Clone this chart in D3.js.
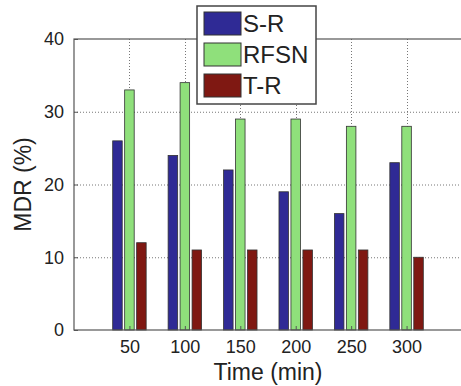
<!DOCTYPE html>
<html>
<head>
<meta charset="utf-8">
<script src="https://cdn.jsdelivr.net/npm/d3@7"></script>
<style>
  body { margin: 0; background: #fff; }
  svg { display: block; font-family: "Liberation Sans", Arial, sans-serif; }
</style>
</head>
<body>
<div id="chart"></div>
<script>
const times = [50, 100, 150, 200, 250, 300];
const seriesNames = ["S-R", "RFSN", "T-R"];
const srValues = [26, 24, 22, 19, 16, 23];
const rfsnValues = [33, 34, 29, 29, 28, 28];
const trValues = [12, 11, 11, 11, 11, 10];
const yTicks = [0, 10, 20, 30, 40];

const colors = ["#2f2a95", "#8fe07b", "#7f1812"];
const series = [srValues, rfsnValues, trValues];

const width = 461, height = 386;
const margins = { left: 74, right: -1, top: 39, bottom: 56 };
const innerWidth = width - margins.left - margins.right;
const innerHeight = height - margins.top - margins.bottom;

const svg = d3.select("#chart").append("svg")
    .attr("width", width)
    .attr("height", height);

const g = svg.append("g")
    .attr("transform", `translate(${margins.left},${margins.top})`);

const x = d3.scaleLinear().domain([0, 350]).range([0, innerWidth]);
const y = d3.scaleLinear().domain([0, 40]).range([innerHeight, 0]);

// dotted grid
const grid = g.append("g").attr("stroke", "#777").attr("stroke-dasharray", "1,2").attr("stroke-width", 1);
yTicks.slice(1, -1).forEach(v => {
    grid.append("line").attr("x1", 0).attr("x2", innerWidth).attr("y1", y(v) + 0.5).attr("y2", y(v) + 0.5);
});
times.forEach(t => {
    grid.append("line").attr("x1", Math.round(x(t)) + 0.5).attr("x2", Math.round(x(t)) + 0.5).attr("y1", 0).attr("y2", innerHeight);
});

// bars: offsets and width in data units
const barW = 8.6, step = 10.8;
series.forEach((vals, si) => {
    g.append("g").selectAll("rect")
        .data(vals.map((v, i) => ({ t: times[i], v })))
        .join("rect")
        .attr("x", d => x(d.t + (si - 1) * step - barW / 2))
        .attr("y", d => y(d.v))
        .attr("width", x(barW) - x(0))
        .attr("height", d => innerHeight - y(d.v))
        .attr("fill", colors[si])
        .attr("stroke", "#333")
        .attr("stroke-width", 0.8);
});

// axes box
const axisColor = "#555";
g.append("rect")
    .attr("x", 0).attr("y", 0)
    .attr("width", innerWidth).attr("height", innerHeight)
    .attr("fill", "none").attr("stroke", axisColor).attr("stroke-width", 1.2);

const xAxis = g.append("g")
    .attr("transform", `translate(0,${innerHeight})`)
    .call(d3.axisBottom(x).tickValues(times).tickSizeInner(-4).tickSizeOuter(0).tickPadding(10));
xAxis.select(".domain").remove();
xAxis.selectAll("line").attr("stroke", axisColor);
xAxis.selectAll("text").attr("font-size", 18).attr("fill", "#222").attr("font-family", "Liberation Sans, Arial, sans-serif");

const yAxis = g.append("g")
    .call(d3.axisLeft(y).tickValues(yTicks).tickSizeInner(-4).tickSizeOuter(0).tickPadding(10));
yAxis.select(".domain").remove();
yAxis.selectAll("line").attr("stroke", axisColor);
yAxis.selectAll("text").attr("font-size", 18).attr("fill", "#222").attr("font-family", "Liberation Sans, Arial, sans-serif");

// axis titles
svg.append("text")
    .attr("x", margins.left + innerWidth / 2)
    .attr("y", 380)
    .attr("text-anchor", "middle")
    .attr("font-size", 23)
    .attr("fill", "#222")
    .text("Time (min)");

svg.append("text")
    .attr("transform", `translate(31,${margins.top + innerHeight / 2}) rotate(-90)`)
    .attr("text-anchor", "middle")
    .attr("font-size", 23)
    .attr("fill", "#222")
    .text("MDR (%)");

// legend
const legend = svg.append("g").attr("transform", "translate(197,6)");
legend.append("rect")
    .attr("width", 119).attr("height", 98)
    .attr("fill", "#fff").attr("stroke", "#444").attr("stroke-width", 1.5);
seriesNames.forEach((name, i) => {
    legend.append("rect")
        .attr("x", 7).attr("y", 6 + i * 31)
        .attr("width", 37).attr("height", 23)
        .attr("fill", colors[i]).attr("stroke", "#333").attr("stroke-width", 1);
    legend.append("text")
        .attr("x", 46).attr("y", 6 + i * 31 + 20)
        .attr("font-size", 24)
        .attr("fill", "#222")
        .text(name);
});
</script>
</body>
</html>
